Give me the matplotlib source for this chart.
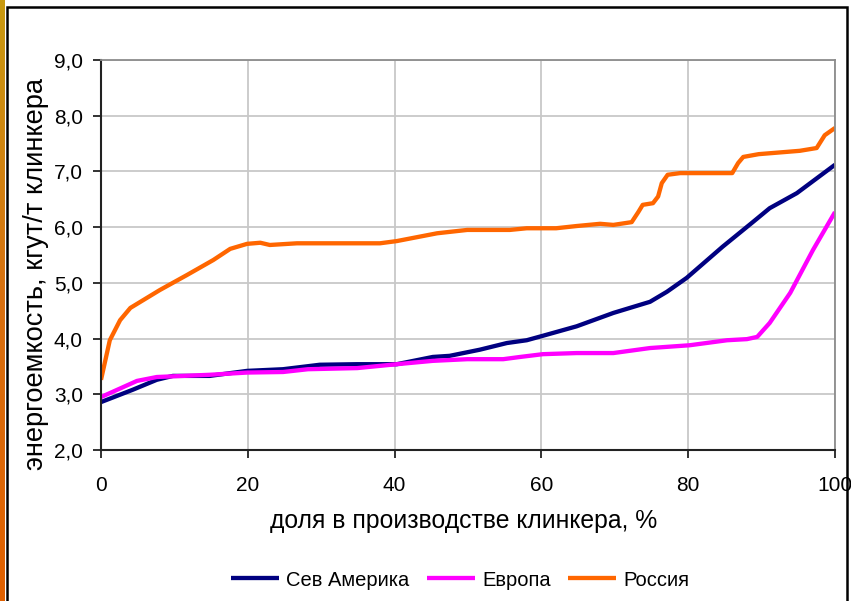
import numpy as np
import matplotlib.pyplot as plt
from matplotlib.patches import Rectangle
from matplotlib.colors import LinearSegmentedColormap

plt.rcParams["font.family"] = ["Liberation Sans", "DejaVu Sans"]

# доля в производстве клинкера, % -> энергоемкость, кгут/т клинкера
x_na = [0, 4.3, 7.6, 9.8, 14.8, 19.9, 24.8, 29.8, 34.9, 40.3, 45.2, 47.5, 51.6,
        55.3, 58, 60.2, 64.8, 69.8, 74.8, 77.1, 79.8, 84.7, 88.8, 91.1, 94.8, 100]
y_na = [2.86, 3.08, 3.26, 3.33, 3.33, 3.42, 3.45, 3.53, 3.54, 3.54, 3.67, 3.69, 3.80,
        3.92, 3.97, 4.05, 4.22, 4.46, 4.66, 4.84, 5.09, 5.65, 6.09, 6.34, 6.61, 7.12]

x_eu = [0, 4.9, 7.6, 14.8, 19.9, 24.8, 28.2, 34.9, 40.3, 45.2, 49.9, 54.8, 57.1,
        60.2, 64.8, 69.8, 74.8, 80.2, 85.3, 88, 89.4, 91.1, 93.9, 97, 100]
y_eu = [2.95, 3.24, 3.31, 3.35, 3.39, 3.40, 3.45, 3.47, 3.54, 3.60, 3.63, 3.63, 3.67,
        3.72, 3.74, 3.74, 3.83, 3.88, 3.97, 3.99, 4.03, 4.28, 4.82, 5.59, 6.27]

x_ru = [0, 1.2, 2.6, 4.0, 8.0, 11.7, 15.3, 17.6, 19.9, 21.7, 23, 26.7, 38, 40.3,
        45.8, 49.9, 55.7, 58, 62, 64.8, 68, 69.8, 72.3, 73.2, 73.8, 75.2, 75.9,
        76.4, 77.2, 78.9, 86, 86.8, 87.5, 89.6, 95.2, 97.5, 98.6, 100]
y_ru = [3.26, 3.97, 4.33, 4.55, 4.87, 5.14, 5.41, 5.61, 5.70, 5.72, 5.68, 5.71, 5.71,
        5.75, 5.89, 5.95, 5.95, 5.98, 5.98, 6.02, 6.06, 6.04, 6.09, 6.27, 6.40, 6.43,
        6.55, 6.79, 6.94, 6.97, 6.97, 7.15, 7.26, 7.31, 7.37, 7.42, 7.65, 7.78]

names = ["Сев Америка", "Европа", "Россия"]
colors = ["#000080", "#FF00FF", "#FF6600"]

W, H = 851, 601
fig = plt.figure(figsize=(W / 100, H / 100), dpi=100)

# рамка слайда: цветная полоса слева и чёрный контур
strip = fig.add_axes([0, 0, 5 / W, 1])
grad = np.linspace(0, 1, 256).reshape(-1, 1)
strip_cmap = LinearSegmentedColormap.from_list("strip", ["#C89A10", "#D87010", "#E06000"])
strip.imshow(grad, aspect="auto", cmap=strip_cmap, extent=[0, 1, 1, 0])
strip.set_axis_off()
fig.patches.append(Rectangle((7 / W, -0.01), (847 - 7) / W, (H - 7) / H + 0.01,
                             transform=fig.transFigure, fill=False,
                             edgecolor="black", linewidth=1.8, zorder=10))

ax = fig.add_axes([101 / W, (H - 450) / H, 734 / W, 390 / H])
for xs, ys, name, c in zip([x_na, x_eu, x_ru], [y_na, y_eu, y_ru], names, colors):
    ax.plot(xs, ys, color=c, lw=3.1, label=name, solid_capstyle="butt",
            solid_joinstyle="round")

ax.set_xlim(0, 100)
ax.set_ylim(2, 9)
ax.set_xticks(np.arange(0, 101, 20))
ax.set_yticks(np.arange(2, 9.1, 1))
ax.set_yticklabels([f"{v:.1f}".replace(".", ",") for v in np.arange(2, 9.1, 1)])
ax.grid(True, color="#C8C8C8", lw=1.3)
ax.set_axisbelow(True)
for s in ["top", "right"]:
    ax.spines[s].set_color("#8C8C8C")
    ax.spines[s].set_linewidth(1.3)
for s in ["left", "bottom"]:
    ax.spines[s].set_color("#222222")
    ax.spines[s].set_linewidth(1.5)
ax.tick_params(axis="both", length=6, width=1.3, labelsize=15, color="#222222")
ax.tick_params(axis="y", pad=7)
ax.tick_params(axis="x", pad=13)

fig.text(464 / W, 1 - 521 / H, "доля в производстве клинкера, %", ha="center",
         va="center", fontsize=17.8)
fig.text(36 / W, 1 - 274 / H, "энергоемкость, кгут/т клинкера", ha="center",
         va="center", rotation=90, fontsize=19.6)

fig.legend(loc="center", bbox_to_anchor=(460 / W, 1 - 580 / H), ncol=3,
           frameon=False, fontsize=14.5, handlelength=2.4, handletextpad=0.35,
           columnspacing=0.85)

fig.savefig("out.png", dpi=100)
